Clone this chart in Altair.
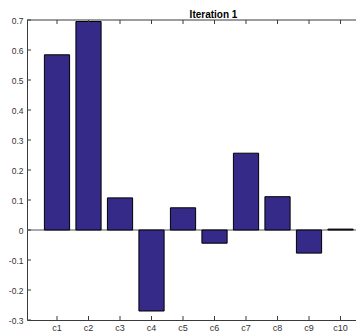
import altair as alt
import pandas as pd

categories = ["c1", "c2", "c3", "c4", "c5", "c6", "c7", "c8", "c9", "c10"]
values = [0.584, 0.695, 0.107, -0.270, 0.074, -0.044, 0.256, 0.111, -0.077, 0.003]
y_ticks = [-0.3, -0.2, -0.1, 0.0, 0.1, 0.2, 0.3, 0.4, 0.5, 0.6, 0.7]
title_text = "Iteration 1"

W = 329
H = 300
FONT = "Liberation Sans"
AX = "#3a3a3a"

df = pd.DataFrame({"cat": categories, "value": values})
tick_df = pd.DataFrame({"t": y_ticks})
zero_df = pd.DataFrame({"z": [0.0]})

xscale = alt.Scale(domain=categories, paddingInner=0.2, paddingOuter=0.322, align=0.858)
yscale = alt.Scale(domain=[-0.3, 0.7], nice=False, zero=False)

xaxis = alt.Axis(title=None, ticks=False, grid=False, labelAngle=0, labelPadding=3,
                 labelFont=FONT, labelFontSize=9, labelColor="#333", domainColor=AX,
                 domainWidth=1)
yaxis = alt.Axis(title=None, ticks=False, grid=False, values=y_ticks, labelPadding=4,
                 labelExpr="'' + round(datum.value*10)/10",
                 labelFont=FONT, labelFontSize=8.5, labelColor="#333", domainColor=AX,
                 domainWidth=1)

X = alt.X("cat:N", sort=categories, scale=xscale, axis=xaxis)

bars = alt.Chart(df).mark_bar(color="#352a87", stroke="black", strokeWidth=1).encode(
    x=X, y=alt.Y("value:Q", scale=yscale, axis=yaxis)
)

zero = alt.Chart(zero_df).mark_rule(color="#555", strokeWidth=1).encode(
    y=alt.Y("z:Q", scale=yscale, axis=yaxis)
)

yt = alt.Chart(tick_df).mark_rule(color=AX, strokeWidth=1).encode(
    y=alt.Y("t:Q", scale=yscale, axis=yaxis), x=alt.value(0), x2=alt.value(4)
)

bt = alt.Chart(df).mark_rule(color=AX, strokeWidth=1).encode(
    x=X, y=alt.value(H), y2=alt.value(H - 4)
)
tt = alt.Chart(df).mark_rule(color=AX, strokeWidth=1).encode(
    x=X, y=alt.value(0), y2=alt.value(4)
)
top = alt.Chart(zero_df).mark_rule(color=AX, strokeWidth=1).encode(
    x=alt.value(0), x2=alt.value(W), y=alt.value(0)
)

chart = alt.layer(zero, bars, yt, bt, tt, top).properties(
    width=W, height=H,
    title=alt.TitleParams(title_text, fontSize=10, fontWeight="bold", font=FONT,
                          color="#000", dx=22, offset=-4, frame="group"),
    autosize=alt.AutoSizeParams(type="none"),
    padding={"left": 19, "top": 12, "right": 0, "bottom": 11},
).configure_view(strokeWidth=0)

chart.save("out.html", embed_options={"renderer": "svg", "actions": False})
